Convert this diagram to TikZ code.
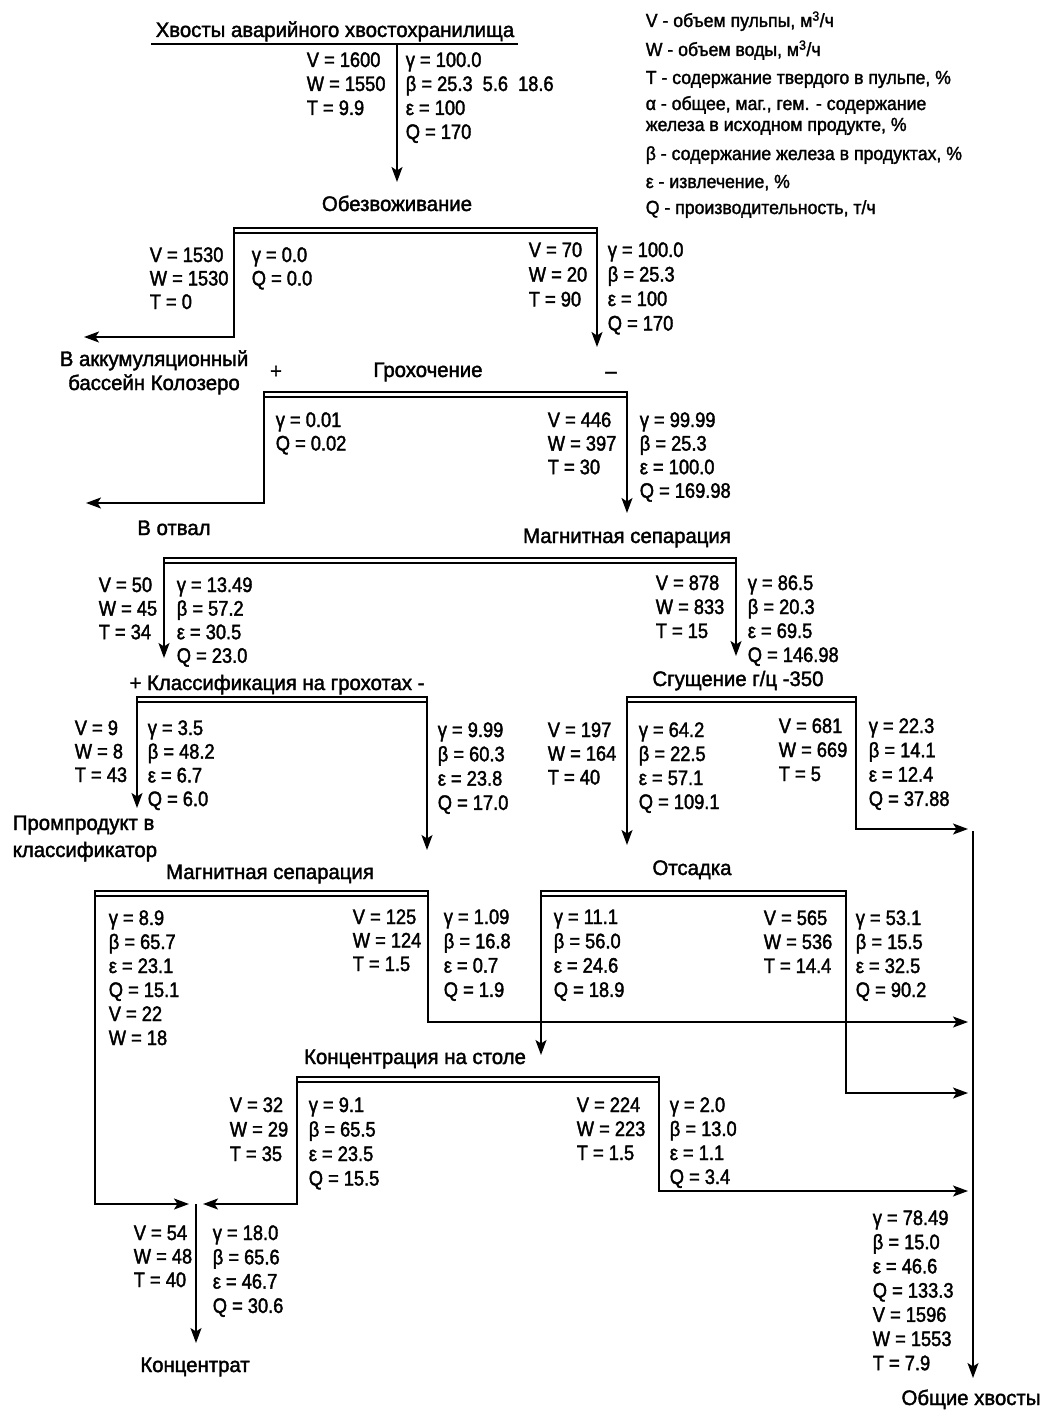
\documentclass[tikz,border=0pt]{standalone}
\usepackage{fontspec}
\setmainfont{Liberation Sans}
\newfontfamily\valfont[FakeStretch=0.87,FakeBold=1.8]{Liberation Sans}
\newfontfamily\ttlfont[FakeStretch=0.97,FakeBold=1.8]{Liberation Sans}
\newfontfamily\legfont[FakeStretch=0.93,FakeBold=1.6]{Liberation Sans}
\usetikzlibrary{arrows.meta}
\tikzset{
  val/.style={anchor=base west, inner sep=0pt, font=\valfont\fontsize{21}{24}\selectfont},
  ttl/.style={anchor=base, inner sep=0pt, font=\ttlfont\fontsize{21}{24}\selectfont},
  ttlw/.style={anchor=base west, inner sep=0pt, font=\ttlfont\fontsize{21}{24}\selectfont},
  leg/.style={anchor=base west, inner sep=0pt, font=\legfont\fontsize{19}{22}\selectfont},
  bar/.style={draw, rectangle, minimum height=5pt, inner sep=0pt, outer sep=0pt},
  arr/.style={-{Stealth[length=15pt,width=11pt,inset=3.5pt]}}
}
\newcommand\vcol[5]{\foreach \t [count=\i] in {#5}{\node[val] (#1\i) at (#2,{#3+#4*(\i-1)}) {\t};}}
\begin{document}
\begin{tikzpicture}[x=1pt,y=-1pt,line width=1.6pt]
\useasboundingbox (0,0) rectangle (1044,1410);

% ---------- legend ----------
\node[leg] (l1) at (645,27) {V - объем пульпы, м\textsuperscript{3}/ч};
\node[leg] (l2) at (645,56) {W - объем воды, м\textsuperscript{3}/ч};
\node[leg] (l3) at (645,84) {T - содержание твердого в пульпе, \%};
\node[leg] (l4) at (645,110) {α - общее, маг., гем. - содержание};
\node[leg] (l5) at (645,131) {железа в исходном продукте, \%};
\node[leg] (l6) at (645,160) {β - содержание железа в продуктах, \%};
\node[leg] (l7) at (645,188) {ε - извлечение, \%};
\node[leg] (l8) at (645,214) {Q - производительность, т/ч};

% ---------- source ----------
\node[ttl] (src) at (335,37) {Хвосты аварийного хвостохранилища};
\coordinate (ulA) at (151,44);
\coordinate (ulB) at (518,44);
\draw (ulA) -- (ulB);
\coordinate (s0) at (397,44);
\coordinate (s0e) at (397,182);
\draw[arr] (s0) -- (s0e);
\vcol{s0L}{306}{67}{24}{V = 1600, W = 1550, T = 9.9}
\vcol{s0R}{405}{67}{24}{γ = 100.0, {β = 25.3\hspace{10pt}5.6\hspace{10pt}18.6}, ε = 100, Q = 170}

% ---------- B1 Обезвоживание ----------
\node[ttl] (t1) at (397,211) {Обезвоживание};
\node[bar, minimum width=363pt] (b1) at (415.5,230.5) {};
\coordinate (b1L) at (84,337);
\draw[arr] (b1.south west) |- (b1L);
\coordinate (b1R) at (597,347);
\draw[arr] (b1.south east) -- (b1R);
\vcol{b1LL}{149}{262}{23.5}{V = 1530, W = 1530, T = 0}
\vcol{b1LR}{251}{262}{23.5}{γ = 0.0, Q = 0.0}
\vcol{b1RL}{528}{257}{24.7}{V = 70, W = 20, T = 90}
\vcol{b1RR}{607}{257}{24.5}{γ = 100.0, β = 25.3, ε = 100, Q = 170}
\node[ttl] (acc1) at (154,366) {В аккумуляционный};
\node[ttl] (acc2) at (154,390) {бассейн Колозеро};

% ---------- B2 Грохочение ----------
\node[ttl] (t2) at (428,377) {Грохочение};
\node[ttl] (t2p) at (276,378) {+};
\node[ttl] (t2m) at (611,378) {–};
\node[bar, minimum width=363pt] (b2) at (445.5,394.5) {};
\coordinate (b2L) at (86,503);
\draw[arr] (b2.south west) |- (b2L);
\coordinate (b2R) at (627,513);
\draw[arr] (b2.south east) -- (b2R);
\vcol{b2LR}{275}{427}{23.5}{γ = 0.01, Q = 0.02}
\vcol{b2RL}{547}{427}{23.6}{V = 446, W = 397, T = 30}
\vcol{b2RR}{639}{427}{23.6}{γ = 99.99, β = 25.3, ε = 100.0, Q = 169.98}
\node[ttl] (otv) at (174,535) {В отвал};

% ---------- B3 Магнитная сепарация ----------
\node[ttl] (t3) at (627,543) {Магнитная сепарация};
\node[bar, minimum width=572pt] (b3) at (450,560.5) {};
\coordinate (b3L) at (164,658);
\draw[arr] (b3.south west) -- (b3L);
\coordinate (b3R) at (736,656);
\draw[arr] (b3.south east) -- (b3R);
\vcol{b3LL}{98}{592}{23.6}{V = 50, W = 45, T = 34}
\vcol{b3LR}{176}{592}{23.6}{γ = 13.49, β = 57.2, ε = 30.5, Q = 23.0}
\vcol{b3RL}{655}{590}{24}{V = 878, W = 833, T = 15}
\vcol{b3RR}{747}{590}{24}{γ = 86.5, β = 20.3, ε = 69.5, Q = 146.98}

% ---------- B4 Классификация ----------
\node[ttl] (t4) at (277,690) {+ Классификация на грохотах -};
\node[bar, minimum width=290pt] (b4) at (282,699.5) {};
\coordinate (b4L) at (137,808);
\draw[arr] (b4.south west) -- (b4L);
\coordinate (b4R) at (427,850);
\draw[arr] (b4.south east) -- (b4R);
\vcol{b4LL}{74}{735}{23.5}{V = 9, W = 8, T = 43}
\vcol{b4LR}{147}{735}{23.7}{γ = 3.5, β = 48.2, ε = 6.7, Q = 6.0}
\vcol{b4RR}{437}{737}{24.3}{γ = 9.99, β = 60.3, ε = 23.8, Q = 17.0}
\node[ttlw] (pp1) at (12,830) {Промпродукт в};
\node[ttlw] (pp2) at (12,857) {классификатор};

% ---------- B5 Сгущение ----------
\node[ttl] (t5) at (738,686) {Сгущение г/ц -350};
\node[bar, minimum width=229pt] (b5) at (741.5,699.5) {};
\coordinate (b5L) at (627,845);
\draw[arr] (b5.south west) -- (b5L);
\coordinate (b5R) at (968,829);
\draw[arr] (b5.south east) |- (b5R);
\vcol{b5LL}{547}{737}{23.7}{V = 197, W = 164, T = 40}
\vcol{b5LR}{638}{737}{24}{γ = 64.2, β = 22.5, ε = 57.1, Q = 109.1}
\vcol{b5RL}{778}{733}{24}{V = 681, W = 669, T = 5}
\vcol{b5RR}{868}{733}{24.3}{γ = 22.3, β = 14.1, ε = 12.4, Q = 37.88}

% ---------- B6 Магнитная сепарация 2 ----------
\node[ttl] (t6) at (270,879) {Магнитная сепарация};
\node[bar, minimum width=333pt] (b6) at (261.5,893.5) {};
\coordinate (b6L) at (189,1204);
\draw[arr] (b6.south west) |- (b6L);
\coordinate (b6R) at (968,1022);
\draw[arr] (b6.south east) |- (b6R);
\vcol{b6LR}{108}{925}{24}{γ = 8.9, β = 65.7, ε = 23.1, Q = 15.1, V = 22, W = 18}
\vcol{b6RL}{352}{924}{23.5}{V = 125, W = 124, T = 1.5}
\vcol{b6RR}{443}{924}{24.3}{γ = 1.09, β = 16.8, ε = 0.7, Q = 1.9}

% ---------- B7 Отсадка ----------
\node[ttl] (t7) at (692,875) {Отсадка};
\node[bar, minimum width=305pt] (b7) at (693.5,893.5) {};
\coordinate (b7L) at (541,1055);
\draw[arr] (b7.south west) -- (b7L);
\coordinate (b7R) at (968,1093);
\draw[arr] (b7.south east) |- (b7R);
\vcol{b7LR}{553}{924}{24.3}{γ = 11.1, β = 56.0, ε = 24.6, Q = 18.9}
\vcol{b7RL}{763}{925}{24}{V = 565, W = 536, T = 14.4}
\vcol{b7RR}{855}{925}{24}{γ = 53.1, β = 15.5, ε = 32.5, Q = 90.2}

% ---------- B8 Концентрация на столе ----------
\node[ttl] (t8) at (415,1064) {Концентрация на столе};
\node[bar, minimum width=362pt] (b8) at (478,1079.5) {};
\coordinate (b8L) at (203,1204);
\draw[arr] (b8.south west) |- (b8L);
\coordinate (b8R) at (968,1191);
\draw[arr] (b8.south east) |- (b8R);
\vcol{b8LL}{229}{1112}{24.5}{V = 32, W = 29, T = 35}
\vcol{b8LR}{308}{1112}{24.5}{γ = 9.1, β = 65.5, ε = 23.5, Q = 15.5}
\vcol{b8RL}{576}{1112}{24}{V = 224, W = 223, T = 1.5}
\vcol{b8RR}{669}{1112}{24}{γ = 2.0, β = 13.0, ε = 1.1, Q = 3.4}

% ---------- concentrate ----------
\coordinate (cS) at (196,1204);
\coordinate (cE) at (196,1343);
\draw[arr] (cS) -- (cE);
\vcol{cL}{133}{1240}{23.5}{V = 54, W = 48, T = 40}
\vcol{cR}{212}{1240}{24.3}{γ = 18.0, β = 65.6, ε = 46.7, Q = 30.6}
\node[ttl] (conc) at (195,1372) {Концентрат};

% ---------- total tailings ----------
\coordinate (tS) at (973,831);
\coordinate (tE) at (973,1378);
\draw[arr] (tS) -- (tE);
\vcol{tL}{872}{1225}{24.2}{γ = 78.49, β = 15.0, ε = 46.6, Q = 133.3, V = 1596, W = 1553, T = 7.9}
\node[ttl] (tails) at (971,1405) {Общие хвосты};
\end{tikzpicture}
\end{document}
